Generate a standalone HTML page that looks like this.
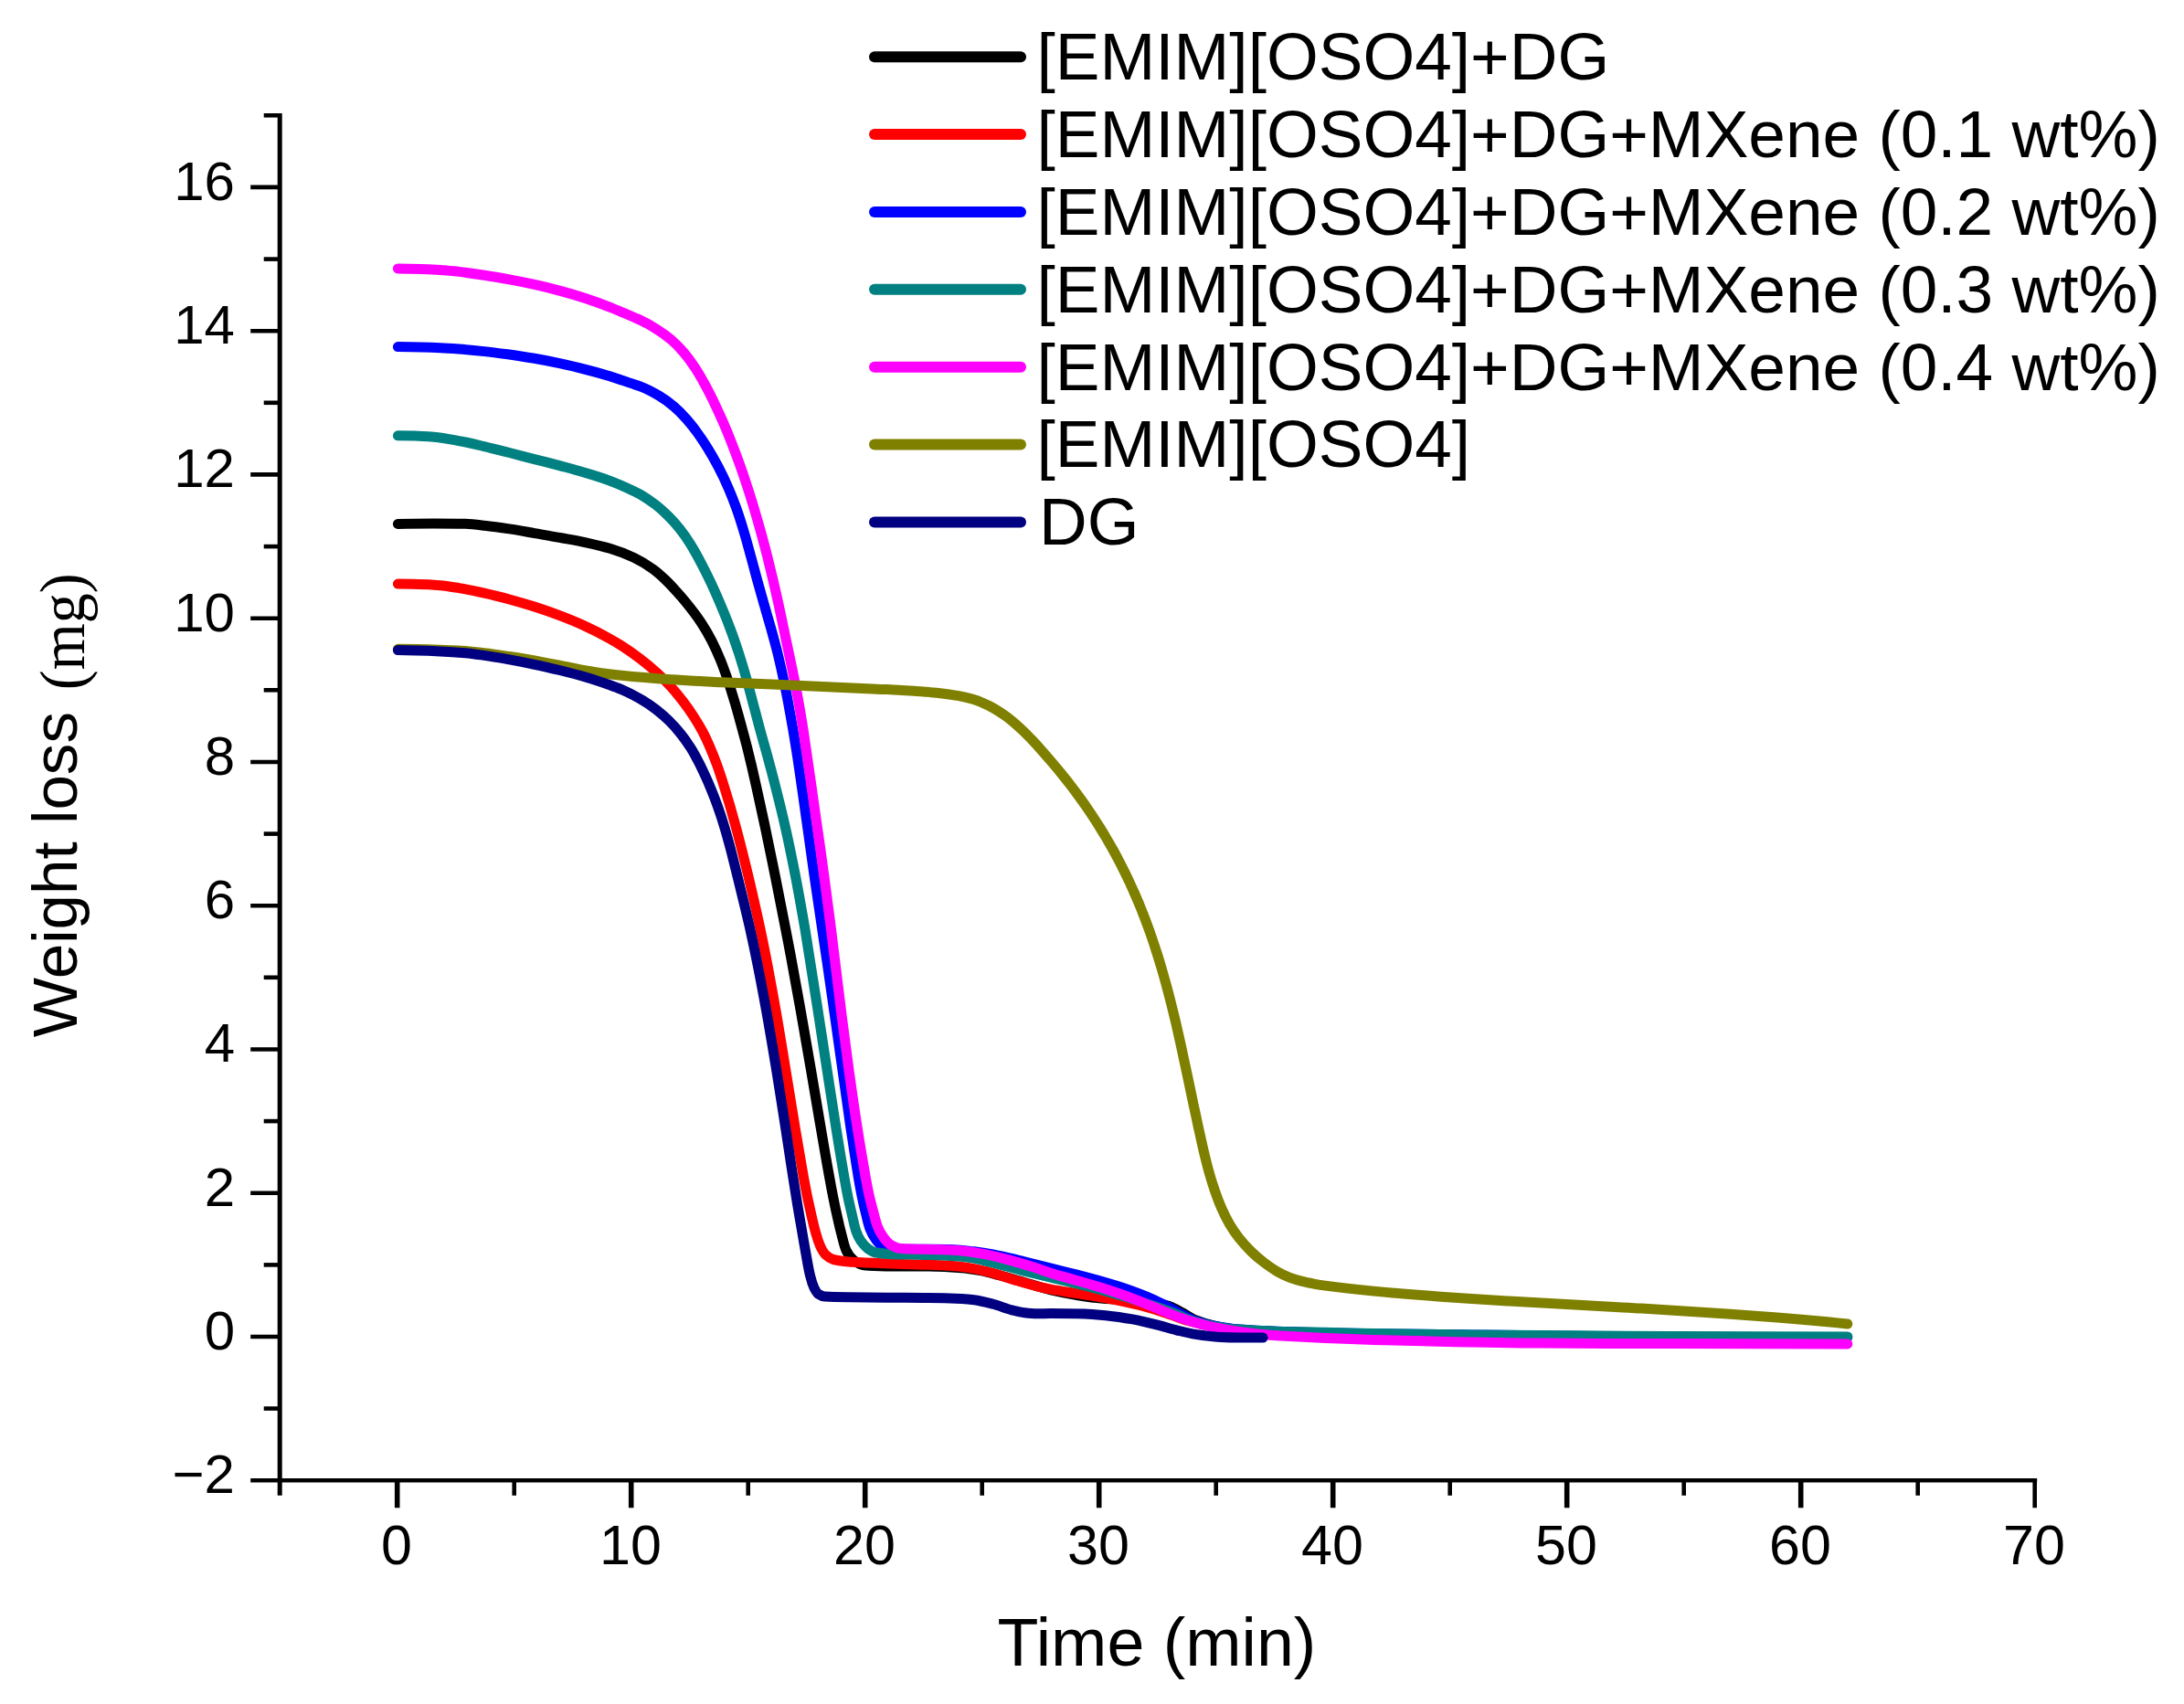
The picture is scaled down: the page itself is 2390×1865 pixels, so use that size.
<!DOCTYPE html>
<html><head><meta charset="utf-8"><title>Weight loss vs Time</title>
<style>html,body{margin:0;padding:0;background:#fff}svg{display:block}text{font-family:"Liberation Sans",Arial,sans-serif;fill:#000}.sf{font-family:"Liberation Serif","Times New Roman",serif}</style></head><body>
<svg width="2390" height="1865" viewBox="0 0 2390 1865">
<rect width="2390" height="1865" fill="#fff"/>
<g stroke="#000" stroke-width="5.0" fill="none" stroke-linecap="butt">
<line x1="306.2" y1="124.0" x2="306.2" y2="1636.8"/>
<line x1="274.2" y1="1620.3" x2="2229.2" y2="1620.3" stroke-width="4.5"/>
<line x1="288.7" y1="1541.6" x2="306.2" y2="1541.6" stroke-width="4.6"/>
<line x1="274.2" y1="1463.0" x2="306.2" y2="1463.0" stroke-width="4.6"/>
<line x1="288.7" y1="1384.4" x2="306.2" y2="1384.4" stroke-width="4.6"/>
<line x1="274.2" y1="1305.7" x2="306.2" y2="1305.7" stroke-width="4.6"/>
<line x1="288.7" y1="1227.1" x2="306.2" y2="1227.1" stroke-width="4.6"/>
<line x1="274.2" y1="1148.5" x2="306.2" y2="1148.5" stroke-width="4.6"/>
<line x1="288.7" y1="1069.8" x2="306.2" y2="1069.8" stroke-width="4.6"/>
<line x1="274.2" y1="991.2" x2="306.2" y2="991.2" stroke-width="4.6"/>
<line x1="288.7" y1="912.6" x2="306.2" y2="912.6" stroke-width="4.6"/>
<line x1="274.2" y1="834.0" x2="306.2" y2="834.0" stroke-width="4.6"/>
<line x1="288.7" y1="755.3" x2="306.2" y2="755.3" stroke-width="4.6"/>
<line x1="274.2" y1="676.7" x2="306.2" y2="676.7" stroke-width="4.6"/>
<line x1="288.7" y1="598.1" x2="306.2" y2="598.1" stroke-width="4.6"/>
<line x1="274.2" y1="519.4" x2="306.2" y2="519.4" stroke-width="4.6"/>
<line x1="288.7" y1="440.8" x2="306.2" y2="440.8" stroke-width="4.6"/>
<line x1="274.2" y1="362.2" x2="306.2" y2="362.2" stroke-width="4.6"/>
<line x1="288.7" y1="283.6" x2="306.2" y2="283.6" stroke-width="4.6"/>
<line x1="274.2" y1="204.9" x2="306.2" y2="204.9" stroke-width="4.6"/>
<line x1="288.7" y1="126.3" x2="306.2" y2="126.3" stroke-width="4.6"/>
<line x1="434.7" y1="1620.3" x2="434.7" y2="1650.3" stroke-width="5.6"/>
<line x1="562.7" y1="1620.3" x2="562.7" y2="1636.8" stroke-width="4.6"/>
<line x1="690.7" y1="1620.3" x2="690.7" y2="1650.3" stroke-width="5.6"/>
<line x1="818.7" y1="1620.3" x2="818.7" y2="1636.8" stroke-width="4.6"/>
<line x1="946.7" y1="1620.3" x2="946.7" y2="1650.3" stroke-width="5.6"/>
<line x1="1074.7" y1="1620.3" x2="1074.7" y2="1636.8" stroke-width="4.6"/>
<line x1="1202.7" y1="1620.3" x2="1202.7" y2="1650.3" stroke-width="5.6"/>
<line x1="1330.7" y1="1620.3" x2="1330.7" y2="1636.8" stroke-width="4.6"/>
<line x1="1458.7" y1="1620.3" x2="1458.7" y2="1650.3" stroke-width="5.6"/>
<line x1="1586.7" y1="1620.3" x2="1586.7" y2="1636.8" stroke-width="4.6"/>
<line x1="1714.7" y1="1620.3" x2="1714.7" y2="1650.3" stroke-width="5.6"/>
<line x1="1842.7" y1="1620.3" x2="1842.7" y2="1636.8" stroke-width="4.6"/>
<line x1="1970.7" y1="1620.3" x2="1970.7" y2="1650.3" stroke-width="5.6"/>
<line x1="2098.7" y1="1620.3" x2="2098.7" y2="1636.8" stroke-width="4.6"/>
<line x1="2226.7" y1="1620.3" x2="2226.7" y2="1650.3" stroke-width="4.6"/>
</g>
<g font-size="60">
<text x="257.0" y="1634.2" text-anchor="end">−2</text>
<text x="257.0" y="1476.9" text-anchor="end">0</text>
<text x="257.0" y="1319.6" text-anchor="end">2</text>
<text x="257.0" y="1162.4" text-anchor="end">4</text>
<text x="257.0" y="1005.1" text-anchor="end">6</text>
<text x="257.0" y="847.9" text-anchor="end">8</text>
<text x="257.0" y="690.6" text-anchor="end">10</text>
<text x="257.0" y="533.3" text-anchor="end">12</text>
<text x="257.0" y="376.1" text-anchor="end">14</text>
<text x="257.0" y="218.8" text-anchor="end">16</text>
<text x="433.9" y="1711.6" text-anchor="middle" font-size="61">0</text>
<text x="689.9" y="1711.6" text-anchor="middle" font-size="61">10</text>
<text x="945.9" y="1711.6" text-anchor="middle" font-size="61">20</text>
<text x="1201.9" y="1711.6" text-anchor="middle" font-size="61">30</text>
<text x="1457.9" y="1711.6" text-anchor="middle" font-size="61">40</text>
<text x="1713.9" y="1711.6" text-anchor="middle" font-size="61">50</text>
<text x="1969.9" y="1711.6" text-anchor="middle" font-size="61">60</text>
<text x="2225.9" y="1711.6" text-anchor="middle" font-size="61">70</text>
</g>
<text x="1091.5" y="1822.6" font-size="73.6">Time (min)</text>
<text transform="translate(84,1135.3) rotate(-90)" font-size="69.2">Weight loss</text>
<text class="sf" transform="translate(92,755.3) rotate(-90) scale(0.94,1)" font-size="70">(mg)</text>
<g fill="none" stroke-width="11.0" stroke-linecap="round" stroke-linejoin="round">
<path stroke="#000000" d="M435.4 573.4 C448.6 573.0 461.8 572.9 474.9 572.9 C486.4 572.9 497.8 573.0 509.2 573.3 C516.1 573.5 523.0 574.4 529.8 575.2 C539.0 576.2 548.2 577.5 557.4 578.9 C566.6 580.3 575.7 582.0 584.9 583.6 C594.1 585.2 603.2 586.7 612.4 588.4 C621.6 590.1 630.9 591.6 640.1 593.6 C649.2 595.6 658.5 597.7 667.4 600.3 C676.3 603.0 685.4 606.4 693.8 610.4 C701.0 613.8 708.1 618.2 714.6 622.9 C719.5 626.4 724.0 630.6 728.4 634.8 C732.4 638.6 736.2 642.8 739.9 646.9 C743.5 650.8 747.0 654.8 750.3 658.9 C756.2 666.1 762.0 673.5 767.1 681.3 C771.3 687.7 775.3 694.4 778.8 701.2 C782.4 708.3 785.7 715.6 788.7 723.0 C791.6 730.3 794.2 737.7 796.7 745.1 C799.4 753.3 802.0 761.6 804.4 769.8 C806.6 777.1 808.6 784.5 810.6 791.8 C813.0 800.5 815.3 809.2 817.6 817.9 C819.3 824.8 821.0 831.7 822.6 838.6 C824.3 845.8 825.9 853.0 827.5 860.2 C830.8 875.0 834.0 889.9 837.2 904.8 C841.0 923.2 844.8 941.5 848.5 959.9 C852.2 978.2 855.8 996.5 859.3 1014.8 C861.3 1024.9 863.2 1034.9 865.1 1045.0 C868.8 1065.0 872.5 1085.0 876.0 1105.0 C879.9 1126.7 883.6 1148.4 887.3 1170.0 C891.0 1191.7 894.6 1213.3 898.3 1234.9 C901.4 1253.2 904.5 1271.5 907.9 1289.8 C909.1 1296.7 910.4 1303.6 911.8 1310.5 C913.2 1317.5 914.6 1324.4 916.2 1331.2 C917.7 1338.1 919.3 1345.0 921.1 1351.8 C922.6 1357.3 923.7 1363.3 925.9 1368.3 C927.7 1372.3 930.9 1376.7 934.2 1379.3 C937.1 1381.6 941.3 1384.4 945.2 1384.8 C952.9 1385.5 961.6 1385.8 969.9 1385.9 C983.6 1386.0 997.4 1385.9 1011.1 1386.0 C1024.8 1386.1 1038.6 1386.7 1052.2 1387.7 C1059.1 1388.1 1066.0 1389.4 1072.8 1390.7 C1079.8 1392.0 1086.7 1394.0 1093.6 1395.8 C1102.7 1398.2 1111.7 1401.0 1120.7 1403.5 C1130.6 1406.3 1140.3 1409.5 1150.2 1411.9 C1159.2 1414.0 1168.3 1415.9 1177.4 1417.4 C1186.5 1418.8 1195.8 1420.3 1205.0 1421.1 C1214.1 1421.9 1223.3 1422.4 1232.5 1422.9 C1241.5 1423.5 1250.7 1423.6 1259.7 1424.4 C1266.7 1425.1 1273.8 1427.6 1280.4 1429.9 C1285.1 1431.6 1289.4 1434.4 1293.8 1436.7 C1298.8 1439.3 1303.4 1442.8 1308.5 1444.9 C1315.0 1447.5 1322.0 1449.6 1328.9 1451.1 C1337.8 1453.1 1347.0 1455.0 1356.1 1455.7 C1369.7 1456.7 1383.6 1457.1 1397.3 1457.5 C1414.9 1458.1 1432.4 1458.5 1450.0 1458.7"/>
<path stroke="#ff0000" d="M435.4 639.1 C443.1 639.1 450.8 639.3 458.4 639.5 C466.2 639.6 474.0 640.1 481.8 640.7 C488.7 641.2 495.6 642.5 502.4 643.6 C511.6 645.1 520.8 647.1 529.9 649.1 C539.1 651.1 548.3 653.5 557.4 656.0 C566.6 658.5 575.8 661.2 584.9 664.1 C594.1 667.1 603.3 670.3 612.4 673.7 C621.6 677.2 630.8 680.9 639.7 685.0 C648.9 689.2 657.9 693.8 666.7 698.7 C671.4 701.3 675.9 704.0 680.4 706.9 C687.3 711.3 694.1 716.1 700.7 721.1 C706.7 725.7 712.7 730.6 718.3 735.8 C724.0 741.0 729.5 746.5 734.6 752.2 C739.2 757.3 743.6 762.7 747.8 768.1 C751.6 773.1 755.3 778.3 758.7 783.6 C762.2 789.0 765.7 794.7 768.7 800.4 C771.8 806.2 774.5 812.2 777.1 818.2 C779.8 824.5 782.3 830.9 784.7 837.4 C787.4 845.0 789.9 852.7 792.3 860.3 C797.0 875.1 801.3 890.1 805.3 905.1 C810.2 923.2 814.7 941.4 819.1 959.7 C823.4 978.0 827.6 996.4 831.5 1014.7 C833.7 1024.9 835.8 1035.0 837.8 1045.2 C841.7 1065.1 845.3 1085.1 848.8 1105.0 C852.6 1126.6 856.1 1148.3 859.6 1170.0 C863.2 1191.6 866.6 1213.3 870.2 1234.9 C873.2 1253.2 876.3 1271.5 879.6 1289.8 C880.9 1296.7 882.2 1303.6 883.6 1310.5 C885.1 1317.4 886.6 1324.3 888.2 1331.2 C889.7 1337.6 891.1 1344.1 893.0 1350.4 C894.3 1355.1 895.8 1359.9 897.8 1364.2 C899.4 1367.6 901.4 1371.4 904.0 1373.8 C906.1 1375.8 909.3 1377.8 912.2 1378.6 C916.4 1379.7 921.3 1380.3 925.9 1380.7 C936.0 1381.5 946.1 1381.9 956.2 1382.3 C969.9 1382.9 983.6 1383.2 997.4 1383.7 C1011.1 1384.2 1024.9 1384.4 1038.5 1385.2 C1045.4 1385.6 1052.3 1386.4 1059.1 1387.4 C1066.0 1388.4 1072.9 1390.0 1079.7 1391.7 C1089.0 1393.9 1098.1 1397.2 1107.2 1399.9 C1116.4 1402.6 1125.5 1405.5 1134.8 1407.8 C1139.9 1409.0 1144.9 1410.2 1150.1 1411.1 C1159.1 1412.8 1168.3 1414.1 1177.5 1415.6 C1186.6 1417.0 1195.8 1418.2 1204.9 1419.8 C1214.1 1421.3 1223.3 1423.1 1232.4 1425.1 C1241.6 1427.0 1250.7 1429.3 1259.7 1431.9 C1266.7 1433.9 1273.6 1436.4 1280.5 1438.7 C1287.4 1441.0 1294.2 1443.8 1301.2 1445.8 C1310.2 1448.3 1319.4 1450.7 1328.7 1452.4 C1337.7 1454.0 1346.9 1455.7 1356.1 1456.3 C1369.8 1457.2 1383.6 1457.5 1397.3 1457.9 C1414.9 1458.4 1432.4 1458.8 1450.0 1458.9"/>
<path stroke="#0000ff" d="M435.4 379.6 C444.0 379.7 452.6 379.9 461.2 380.1 C468.1 380.2 474.9 380.4 481.8 380.7 C488.7 381.0 495.6 381.5 502.4 382.0 C511.6 382.7 520.8 383.6 529.9 384.6 C539.1 385.6 548.2 386.8 557.4 388.0 C566.6 389.3 575.7 390.8 584.8 392.3 C594.0 393.9 603.2 395.7 612.3 397.6 C621.5 399.6 630.7 401.7 639.7 404.1 C649.0 406.4 658.2 408.9 667.3 411.7 C676.5 414.5 685.6 417.9 694.8 420.9 C696.7 421.5 698.6 422.1 700.5 422.8 C707.6 425.4 714.5 429.1 721.0 433.0 C726.8 436.4 732.4 440.6 737.6 445.0 C742.4 449.1 747.0 453.8 751.2 458.6 C755.1 463.0 758.8 467.7 762.2 472.4 C766.5 478.2 770.5 484.3 774.3 490.4 C778.5 497.2 782.5 504.2 786.2 511.3 C790.2 518.9 793.9 526.7 797.3 534.6 C800.2 541.4 802.9 548.3 805.4 555.2 C808.4 563.4 811.0 571.7 813.5 580.0 C816.3 589.0 818.7 598.2 821.2 607.4 C823.8 616.5 826.1 625.6 828.6 634.7 C831.1 643.8 833.7 652.9 836.3 662.0 C838.7 670.6 841.3 679.2 843.7 687.8 C846.2 696.8 848.7 705.9 851.0 715.0 C853.2 724.1 855.3 733.2 857.2 742.4 C859.2 751.5 861.0 760.7 862.7 769.9 C864.4 779.0 866.0 788.2 867.6 797.3 C869.2 806.5 870.6 815.7 872.1 824.9 C873.9 836.6 875.6 848.3 877.3 860.1 C879.4 875.0 881.5 890.0 883.6 904.9 C886.2 923.2 888.7 941.5 891.3 959.9 C894.0 978.2 896.7 996.5 899.4 1014.8 C900.9 1024.9 902.4 1034.9 903.9 1045.0 C906.9 1065.0 909.8 1085.0 912.6 1105.1 C915.7 1126.7 918.7 1148.3 921.8 1170.0 C924.9 1191.6 927.8 1213.3 931.0 1235.0 C933.8 1253.2 936.5 1271.5 939.6 1289.8 C940.8 1296.6 942.0 1303.5 943.4 1310.4 C944.6 1316.3 946.0 1322.2 947.5 1328.1 C948.9 1333.7 950.0 1339.6 952.0 1344.9 C953.6 1349.3 956.1 1353.7 958.9 1357.3 C961.1 1360.1 964.0 1363.8 967.1 1364.9 C970.3 1365.9 974.4 1366.8 978.1 1366.9 C984.5 1367.1 991.0 1367.2 997.4 1367.2 C1011.1 1367.3 1024.9 1367.3 1038.6 1367.4 C1047.8 1367.4 1056.9 1368.8 1066.0 1369.8 C1075.2 1370.9 1084.4 1372.7 1093.5 1374.5 C1102.7 1376.2 1111.8 1378.6 1120.9 1380.8 C1130.7 1383.2 1140.4 1385.8 1150.1 1388.2 C1159.2 1390.5 1168.3 1392.6 1177.4 1394.9 C1186.6 1397.3 1195.8 1399.7 1205.0 1402.4 C1214.2 1405.0 1223.4 1407.7 1232.4 1410.8 C1241.6 1414.0 1250.8 1417.4 1259.8 1421.3 C1266.8 1424.3 1273.7 1427.8 1280.5 1431.3 C1285.1 1433.8 1289.6 1436.6 1294.2 1439.0 C1298.9 1441.4 1303.5 1444.0 1308.3 1445.7 C1314.9 1448.0 1321.9 1450.0 1328.8 1451.2 C1337.8 1452.9 1347.0 1454.3 1356.1 1455.0 C1369.8 1456.1 1383.5 1456.7 1397.3 1457.2 C1414.8 1457.9 1432.4 1458.5 1450.0 1458.8 C1467.7 1459.2 1485.3 1459.5 1503.0 1459.7 C1535.3 1460.1 1567.7 1460.6 1600.0 1460.8 C1607.3 1460.9 1614.7 1460.9 1622.0 1460.9 C1663.0 1461.2 1704.0 1461.8 1744.9 1462.4 C1751.6 1462.5 1758.3 1462.6 1765.0 1462.7 C1786.7 1462.9 1808.3 1463.2 1830.0 1463.2 C1893.9 1463.4 1957.9 1463.5 2021.8 1463.5"/>
<path stroke="#008080" d="M435.4 476.8 C441.7 476.8 448.0 476.9 454.3 477.0 C461.2 477.2 468.1 477.7 474.9 478.2 C484.1 479.0 493.3 480.9 502.3 482.6 C511.5 484.3 520.7 486.5 529.8 488.6 C539.1 490.8 548.3 493.2 557.5 495.5 C566.6 497.9 575.8 500.2 584.9 502.6 C594.1 504.9 603.2 507.2 612.4 509.6 C621.5 512.1 630.7 514.5 639.8 517.3 C649.0 520.0 658.1 522.8 667.1 526.1 C676.2 529.5 685.2 533.5 694.0 537.7 C696.5 538.8 698.9 540.0 701.3 541.4 C706.9 544.7 712.4 548.5 717.6 552.5 C722.4 556.3 727.1 560.5 731.4 564.8 C735.8 569.1 739.9 573.8 743.7 578.6 C747.5 583.4 751.2 588.5 754.5 593.8 C757.9 599.1 761.0 604.7 764.1 610.3 C767.5 616.6 770.7 623.0 773.9 629.4 C777.0 635.7 780.0 642.0 782.8 648.4 C788.5 661.3 794.0 674.4 799.0 687.7 C802.4 696.7 805.5 705.8 808.5 714.9 C811.4 724.0 814.2 733.2 816.8 742.4 C819.4 751.5 821.7 760.7 824.1 769.9 C826.6 779.0 829.0 788.2 831.4 797.3 C833.9 806.4 836.5 815.5 839.0 824.6 C842.2 836.4 845.4 848.3 848.4 860.2 C852.2 875.1 855.9 890.0 859.3 905.0 C863.4 923.2 867.1 941.5 870.7 959.9 C874.2 978.1 877.4 996.5 880.6 1014.8 C882.3 1024.9 883.8 1034.9 885.4 1045.0 C888.7 1065.0 891.8 1085.0 894.9 1105.0 C898.3 1126.6 901.6 1148.3 904.9 1170.0 C908.3 1191.7 911.6 1213.4 915.0 1235.0 C918.0 1253.2 920.9 1271.5 924.1 1289.7 C925.3 1296.6 926.6 1303.6 928.0 1310.4 C929.4 1317.3 931.1 1324.1 932.7 1331.0 C934.0 1336.6 935.1 1342.4 936.9 1347.7 C938.2 1351.5 940.2 1355.4 942.4 1358.7 C944.3 1361.4 946.7 1364.3 949.3 1366.2 C952.0 1368.2 955.5 1370.5 958.9 1371.0 C964.5 1372.0 970.8 1372.5 976.8 1372.7 C988.2 1373.1 999.7 1373.1 1011.1 1373.4 C1024.8 1373.8 1038.6 1374.3 1052.3 1375.3 C1056.8 1375.7 1061.4 1376.4 1065.9 1377.2 C1075.2 1378.9 1084.4 1381.7 1093.6 1384.0 C1102.7 1386.3 1111.9 1388.8 1121.0 1391.1 C1130.7 1393.5 1140.4 1395.7 1150.1 1398.1 C1168.4 1402.6 1186.8 1406.8 1204.9 1411.8 C1223.3 1416.8 1241.7 1422.4 1259.8 1428.4 C1269.0 1431.5 1278.1 1434.7 1287.1 1438.2 C1292.0 1440.2 1296.7 1442.8 1301.7 1444.4 C1310.4 1447.4 1319.6 1450.0 1328.7 1451.6 C1337.7 1453.1 1346.9 1454.4 1356.1 1455.1 C1369.8 1456.2 1383.5 1456.9 1397.3 1457.3 C1414.8 1457.8 1432.4 1458.0 1450.0 1458.3 C1467.7 1458.7 1485.3 1459.1 1503.0 1459.4 C1539.7 1460.0 1576.5 1460.7 1613.2 1461.0 C1685.5 1461.7 1757.7 1462.1 1830.0 1462.4 C1893.9 1462.6 1957.9 1462.9 2021.8 1463.0"/>
<path stroke="#ff00ff" d="M435.4 294.0 C444.0 294.1 452.6 294.3 461.2 294.6 C468.1 294.8 474.9 295.0 481.8 295.4 C488.7 295.8 495.6 296.7 502.4 297.4 C511.6 298.5 520.8 299.8 529.9 301.2 C539.1 302.5 548.3 304.1 557.4 305.8 C566.6 307.5 575.7 309.3 584.8 311.3 C594.0 313.4 603.2 315.6 612.3 318.1 C621.5 320.6 630.7 323.3 639.8 326.3 C649.0 329.3 658.1 332.6 667.2 336.1 C676.5 339.7 685.6 343.9 694.8 347.8 C696.8 348.7 698.7 349.4 700.6 350.3 C706.7 353.2 712.7 356.5 718.3 360.1 C724.1 363.7 729.8 367.8 734.9 372.2 C739.7 376.4 744.2 381.1 748.3 385.9 C752.4 390.6 756.1 395.7 759.5 400.9 C763.1 406.1 766.3 411.7 769.4 417.2 C772.8 423.1 775.9 429.2 778.9 435.2 C782.2 442.0 785.4 448.9 788.5 455.8 C791.4 462.2 794.1 468.6 796.8 475.1 C799.8 482.5 802.7 490.0 805.5 497.5 C808.9 506.6 812.2 515.7 815.2 524.9 C818.3 534.1 821.2 543.2 824.0 552.5 C826.7 561.5 829.4 570.7 831.9 579.8 C834.5 589.0 836.9 598.2 839.3 607.4 C841.6 616.5 843.8 625.7 846.0 634.9 C848.1 644.0 850.2 653.2 852.2 662.3 C854.0 670.7 855.8 679.0 857.5 687.4 C859.5 696.6 861.4 705.8 863.3 715.0 C865.2 724.1 867.2 733.2 869.0 742.4 C870.8 751.6 872.6 760.7 874.2 769.9 C875.8 779.1 877.4 788.2 878.8 797.4 C880.2 806.6 881.5 815.7 882.8 824.9 C884.5 836.6 886.2 848.2 887.9 859.9 C890.0 874.9 892.2 889.9 894.3 904.9 C896.9 923.2 899.6 941.6 902.0 959.9 C904.5 978.2 906.9 996.5 909.2 1014.8 C910.5 1024.9 911.6 1035.0 912.9 1045.0 C915.3 1065.0 917.7 1085.0 920.3 1105.0 C923.0 1126.7 925.8 1148.4 928.8 1170.0 C931.8 1191.7 934.9 1213.4 938.3 1235.0 C941.2 1253.2 944.2 1271.5 947.5 1289.7 C948.5 1295.2 949.5 1300.8 950.7 1306.3 C952.1 1312.7 953.8 1319.1 955.5 1325.4 C957.0 1331.0 958.2 1336.9 960.3 1342.2 C961.9 1346.5 964.4 1350.9 967.1 1354.6 C969.4 1357.6 972.2 1361.1 975.4 1362.8 C978.5 1364.5 982.6 1366.4 986.4 1366.6 C994.3 1367.1 1002.8 1367.1 1011.0 1367.3 C1020.2 1367.5 1029.4 1367.6 1038.6 1367.9 C1045.4 1368.1 1052.3 1368.9 1059.1 1369.7 C1066.1 1370.5 1072.9 1371.8 1079.8 1373.1 C1089.0 1374.9 1098.2 1377.4 1107.3 1379.9 C1116.4 1382.4 1125.5 1385.2 1134.5 1388.1 C1139.8 1389.8 1145.0 1391.8 1150.3 1393.4 C1159.3 1396.2 1168.4 1398.6 1177.4 1401.3 C1186.6 1403.9 1195.8 1406.5 1205.0 1409.3 C1214.1 1412.2 1223.3 1415.2 1232.3 1418.5 C1241.6 1421.9 1250.7 1425.7 1259.8 1429.4 C1266.8 1432.2 1273.6 1435.3 1280.6 1438.0 C1287.4 1440.7 1294.2 1443.4 1301.2 1445.5 C1310.2 1448.2 1319.4 1450.7 1328.6 1452.6 C1337.6 1454.5 1346.8 1456.1 1356.0 1457.4 C1365.2 1458.7 1374.3 1459.9 1383.5 1460.7 C1392.7 1461.5 1401.8 1462.1 1411.0 1462.6 C1424.0 1463.3 1437.0 1463.9 1450.0 1464.5 C1467.7 1465.2 1485.3 1465.9 1503.0 1466.4 C1521.4 1466.9 1539.8 1467.4 1558.2 1467.8 C1600.9 1468.7 1643.7 1469.7 1686.4 1470.0 C1734.3 1470.3 1782.1 1470.5 1830.0 1470.6 C1893.9 1470.8 1957.9 1470.9 2021.8 1470.9"/>
<path stroke="#808000" d="M435.4 710.3 C450.9 710.3 466.3 710.7 481.8 711.2 C490.9 711.4 500.1 711.9 509.3 712.5 C516.1 713.0 523.0 713.8 529.9 714.7 C539.1 715.7 548.2 717.1 557.4 718.5 C566.5 719.8 575.7 721.4 584.8 723.0 C594.0 724.7 603.1 726.5 612.3 728.2 C621.5 730.0 630.6 732.0 639.8 733.7 C646.7 734.9 653.6 736.1 660.5 737.0 C667.0 737.9 673.6 738.7 680.1 739.3 C698.4 741.2 716.7 742.6 735.0 743.8 C753.3 745.0 771.6 745.8 789.9 746.7 C808.2 747.6 826.5 748.3 844.8 749.1 C863.1 749.9 881.5 750.6 899.8 751.4 C918.1 752.2 936.4 753.1 954.7 753.9 C959.8 754.1 964.9 754.3 970.0 754.6 C980.0 755.1 990.0 755.7 1000.0 756.3 C1008.3 756.9 1016.6 757.3 1024.8 758.2 C1033.0 759.0 1041.1 760.2 1049.2 761.7 C1054.7 762.7 1060.2 764.0 1065.5 765.6 C1071.1 767.3 1076.7 769.7 1081.9 772.2 C1087.7 775.0 1093.3 778.6 1098.5 782.3 C1104.8 786.6 1110.7 791.7 1116.3 796.9 C1120.5 800.6 1124.4 804.7 1128.3 808.7 C1132.1 812.7 1135.8 816.7 1139.4 820.8 C1143.0 824.8 1146.5 828.9 1150.0 833.0 C1153.4 837.0 1156.8 841.0 1160.1 845.0 C1163.3 849.0 1166.5 853.0 1169.7 857.0 C1172.7 861.0 1175.8 865.0 1178.7 869.0 C1181.7 873.0 1184.5 877.0 1187.4 881.0 C1190.1 885.0 1192.8 889.0 1195.5 893.0 C1198.1 897.0 1200.7 901.0 1203.2 905.0 C1205.7 909.0 1208.1 913.0 1210.5 917.0 C1212.8 921.0 1215.1 925.0 1217.4 929.0 C1219.6 933.0 1221.8 937.0 1223.9 941.0 C1226.0 945.0 1228.0 949.0 1230.0 953.0 C1232.0 957.0 1233.9 961.0 1235.8 965.0 C1237.6 969.0 1239.5 973.0 1241.2 977.0 C1243.0 981.0 1244.7 985.0 1246.4 989.0 C1247.9 992.7 1249.4 996.3 1250.8 1000.0 C1253.4 1006.6 1255.9 1013.3 1258.3 1020.0 C1260.6 1026.6 1262.9 1033.3 1265.0 1040.0 C1267.2 1046.6 1269.2 1053.3 1271.2 1060.0 C1273.1 1066.6 1275.0 1073.3 1276.8 1080.0 C1278.6 1086.6 1280.3 1093.3 1282.0 1100.0 C1283.7 1106.7 1285.3 1113.3 1286.9 1120.0 C1288.4 1126.7 1289.9 1133.3 1291.4 1140.0 C1292.9 1146.7 1294.3 1153.3 1295.7 1160.0 C1297.2 1166.7 1298.6 1173.3 1300.0 1180.0 C1301.4 1186.7 1302.8 1193.3 1304.2 1200.0 C1305.6 1206.7 1307.0 1213.3 1308.5 1220.0 C1309.9 1226.7 1311.3 1233.4 1312.8 1240.0 C1314.3 1246.7 1315.7 1253.4 1317.3 1260.1 C1318.9 1266.8 1320.5 1273.5 1322.3 1280.1 C1324.5 1288.2 1327.0 1296.4 1329.8 1304.4 C1331.8 1310.2 1334.0 1316.0 1336.5 1321.7 C1339.2 1327.8 1342.2 1334.0 1345.5 1339.8 C1348.6 1345.1 1352.2 1350.3 1356.0 1355.1 C1360.2 1360.4 1364.9 1365.5 1369.7 1370.2 C1374.0 1374.4 1378.7 1378.3 1383.5 1382.0 C1387.9 1385.3 1392.5 1388.6 1397.3 1391.4 C1401.7 1393.9 1406.3 1396.3 1411.0 1398.1 C1415.5 1399.8 1420.3 1401.2 1425.0 1402.4 C1429.5 1403.5 1434.2 1404.4 1438.8 1405.3 C1442.6 1406.0 1446.4 1406.6 1450.3 1407.1 C1467.9 1409.5 1485.6 1411.4 1503.3 1413.1 C1527.7 1415.5 1552.1 1417.4 1576.5 1419.2 C1600.9 1420.9 1625.4 1422.4 1649.8 1423.9 C1674.2 1425.3 1698.6 1426.7 1723.0 1428.0 C1747.5 1429.4 1771.9 1430.7 1796.3 1432.1 C1827.5 1434.0 1858.7 1435.9 1889.9 1438.0 C1908.2 1439.2 1926.5 1440.5 1944.8 1441.9 C1963.1 1443.4 1981.5 1445.1 1999.8 1446.8 C2007.1 1447.5 2014.5 1448.2 2021.8 1448.9"/>
<path stroke="#000080" d="M435.4 711.6 C450.9 711.7 466.3 712.3 481.8 713.0 C490.9 713.3 500.1 713.9 509.2 714.7 C516.1 715.3 523.0 716.4 529.9 717.4 C539.1 718.7 548.2 720.3 557.4 721.9 C566.6 723.6 575.7 725.4 584.9 727.3 C594.1 729.2 603.2 731.3 612.3 733.5 C621.5 735.8 630.7 738.1 639.7 740.7 C649.0 743.4 658.2 746.5 667.4 749.7 C671.5 751.2 675.6 752.7 679.6 754.4 C686.8 757.5 693.9 761.1 700.7 765.0 C706.8 768.5 712.8 772.5 718.4 776.8 C723.1 780.5 727.7 784.5 731.9 788.6 C736.4 793.0 740.7 797.8 744.6 802.7 C748.5 807.5 752.1 812.7 755.5 817.9 C758.3 822.4 760.9 827.1 763.4 831.9 C765.6 835.9 767.6 840.1 769.5 844.3 C771.9 849.4 774.3 854.6 776.5 859.9 C779.6 867.3 782.6 874.8 785.3 882.4 C788.0 889.9 790.5 897.4 792.7 905.1 C795.4 913.9 797.8 922.9 800.2 931.9 C802.6 941.2 804.9 950.5 807.2 959.8 C809.4 968.9 811.6 977.9 813.8 986.9 C816.0 996.2 818.3 1005.5 820.4 1014.8 C822.6 1024.9 824.9 1035.0 826.9 1045.2 C831.0 1065.1 834.8 1085.1 838.4 1105.0 C842.3 1126.6 845.9 1148.3 849.5 1170.0 C853.0 1191.6 856.3 1213.3 859.7 1234.9 C862.5 1253.3 865.2 1271.6 868.1 1289.9 C869.5 1299.1 871.0 1308.3 872.5 1317.5 C874.0 1326.6 875.6 1335.8 877.2 1344.9 C878.8 1354.1 880.3 1363.3 882.0 1372.4 C883.5 1380.7 884.7 1389.1 886.8 1397.1 C887.8 1401.3 889.1 1405.7 890.9 1409.5 C892.1 1411.9 893.7 1415.0 895.7 1416.4 C897.5 1417.6 900.2 1419.0 902.6 1419.1 C910.9 1419.6 920.0 1419.7 928.7 1419.8 C942.4 1420.0 956.2 1420.1 969.9 1420.2 C983.6 1420.3 997.4 1420.3 1011.1 1420.4 C1024.8 1420.5 1038.6 1420.9 1052.2 1421.5 C1056.8 1421.8 1061.4 1422.2 1065.9 1422.7 C1072.9 1423.6 1079.8 1425.5 1086.6 1427.3 C1093.6 1429.1 1100.4 1432.1 1107.4 1433.9 C1111.9 1435.0 1116.5 1436.2 1121.1 1436.8 C1125.6 1437.3 1130.2 1437.8 1134.7 1437.8 C1139.8 1437.8 1144.9 1437.5 1150.0 1437.5 C1162.4 1437.5 1174.8 1437.7 1187.1 1438.0 C1195.4 1438.2 1203.6 1439.2 1211.8 1440.0 C1221.0 1441.0 1230.2 1442.4 1239.2 1443.9 C1248.4 1445.6 1257.6 1447.9 1266.7 1450.2 C1273.6 1451.9 1280.5 1454.1 1287.4 1455.8 C1294.3 1457.5 1301.1 1459.4 1308.1 1460.4 C1317.1 1461.8 1326.3 1463.0 1335.4 1463.4 C1342.3 1463.7 1349.2 1463.9 1356.0 1463.9 C1364.7 1464.0 1373.4 1464.0 1382.1 1464.0"/>
</g>
<g stroke-width="12" stroke-linecap="round">
<line x1="957" y1="62.3" x2="1117" y2="62.3" stroke="#000000"/>
<line x1="957" y1="147.1" x2="1117" y2="147.1" stroke="#ff0000"/>
<line x1="957" y1="232.0" x2="1117" y2="232.0" stroke="#0000ff"/>
<line x1="957" y1="316.8" x2="1117" y2="316.8" stroke="#008080"/>
<line x1="957" y1="401.7" x2="1117" y2="401.7" stroke="#ff00ff"/>
<line x1="957" y1="486.6" x2="1117" y2="486.6" stroke="#808000"/>
<line x1="957" y1="571.4" x2="1117" y2="571.4" stroke="#000080"/>
</g>
<g font-size="73">
<text x="1134.5" y="87.1">[EMIM][OSO4]+DG</text>
<text x="1134.5" y="171.9">[EMIM][OSO4]+DG+MXene (0.1 wt&#37;)</text>
<text x="1134.5" y="256.8">[EMIM][OSO4]+DG+MXene (0.2 wt&#37;)</text>
<text x="1134.5" y="341.6">[EMIM][OSO4]+DG+MXene (0.3 wt&#37;)</text>
<text x="1134.5" y="426.5">[EMIM][OSO4]+DG+MXene (0.4 wt&#37;)</text>
<text x="1134.5" y="511.4">[EMIM][OSO4]</text>
<text x="1137.0" y="596.2">DG</text>
</g>
</svg></body></html>
